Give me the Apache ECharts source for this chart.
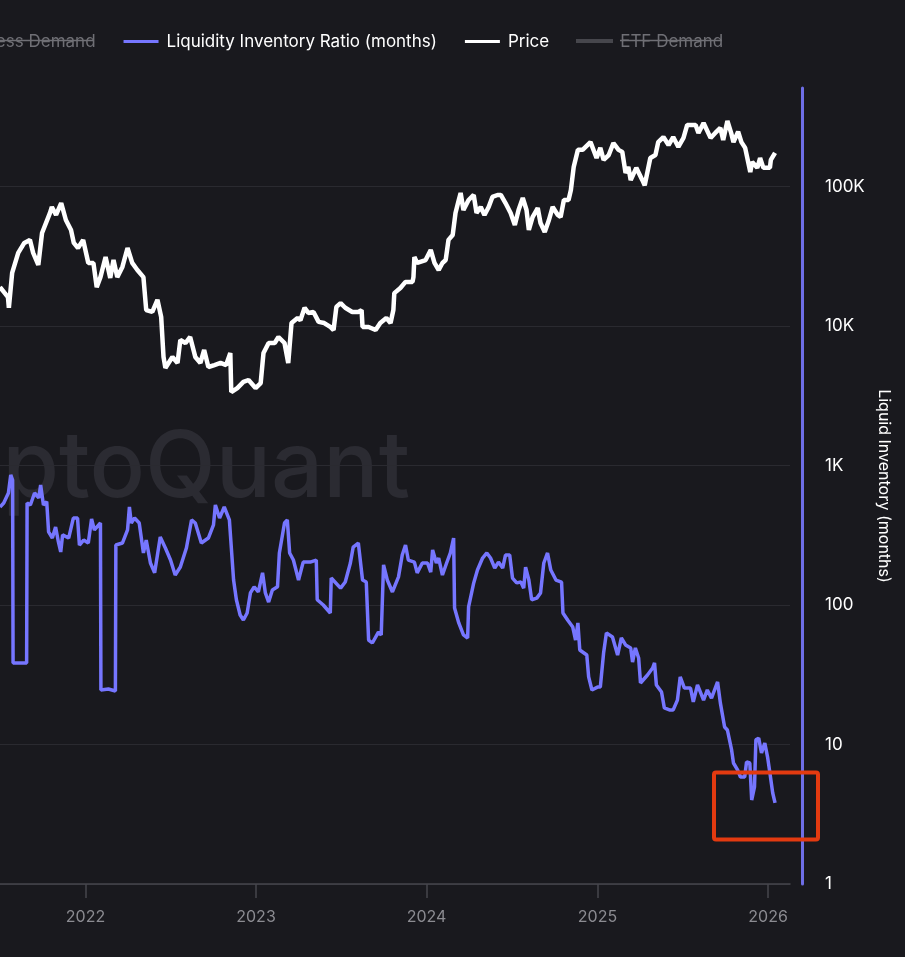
<!DOCTYPE html>
<html><head><meta charset="utf-8">
<style>html,body{margin:0;padding:0;background:#19191e;overflow:hidden}#c{width:905px;height:957px}</style>
<script src="https://cdn.jsdelivr.net/npm/echarts@6/dist/echarts.min.js"></script>
</head><body><div id="c"></div>
<script>
const priceDates=["2021-07-02","2021-07-11","2021-07-19","2021-07-21","2021-07-28","2021-08-10","2021-08-23","2021-09-04","2021-09-11","2021-09-22","2021-09-30","2021-10-17","2021-10-21","2021-10-30","2021-11-10","2021-11-20","2021-12-01","2021-12-07","2021-12-16","2021-12-27",
"2022-01-07","2022-01-18","2022-01-25","2022-02-02","2022-02-13","2022-02-23","2022-03-02","2022-03-10","2022-03-21","2022-04-01","2022-04-11","2022-04-22","2022-05-05","2022-05-11","2022-05-24","2022-06-04","2022-06-12","2022-06-17","2022-06-21","2022-07-06","2022-07-17","2022-07-23","2022-08-03","2022-08-13","2022-08-24","2022-09-04","2022-09-12","2022-09-21","2022-10-04","2022-10-17","2022-10-29","2022-11-07","2022-11-09","2022-11-22","2022-12-05","2022-12-16","2022-12-31",
"2023-01-11","2023-01-17","2023-01-28","2023-02-10","2023-02-18","2023-03-03","2023-03-11","2023-03-18","2023-03-31","2023-04-06","2023-04-15","2023-04-23","2023-05-04","2023-05-15","2023-05-27","2023-06-09","2023-06-16","2023-06-22","2023-07-01","2023-07-11","2023-07-26","2023-08-08","2023-08-15","2023-08-17","2023-08-30","2023-09-14","2023-09-24","2023-10-07","2023-10-16","2023-10-22","2023-10-24","2023-11-06","2023-11-17","2023-12-02","2023-12-04","2023-12-06","2023-12-12","2023-12-30",
"2024-01-10","2024-01-18","2024-01-27","2024-02-04","2024-02-11","2024-02-17","2024-02-26","2024-02-28","2024-03-03","2024-03-10","2024-03-14","2024-03-20","2024-03-31","2024-04-11","2024-04-17","2024-04-26","2024-05-04","2024-05-13","2024-05-21","2024-06-01","2024-06-08","2024-06-18","2024-06-29","2024-07-08","2024-07-16","2024-07-25","2024-08-02","2024-08-07","2024-08-15","2024-08-26","2024-09-01","2024-09-10","2024-09-19","2024-09-27","2024-10-08","2024-10-14","2024-10-21","2024-10-31","2024-11-05","2024-11-11","2024-11-20","2024-11-30","2024-12-17","2024-12-30",
"2025-01-07","2025-01-14","2025-01-25","2025-02-04","2025-02-15","2025-02-23","2025-03-02","2025-03-08","2025-03-13","2025-03-25","2025-04-07","2025-04-12","2025-04-24","2025-05-05","2025-05-11","2025-05-22","2025-06-02","2025-06-12","2025-06-23","2025-07-04","2025-07-12","2025-07-30","2025-08-05","2025-08-16","2025-08-31","2025-09-10","2025-09-21","2025-09-27","2025-10-06","2025-10-14","2025-10-19","2025-10-29","2025-11-05","2025-11-13","2025-11-24","2025-11-28","2025-12-09","2025-12-15","2025-12-22","2026-01-05","2026-01-07","2026-01-16"];
const priceValues=[19000,17400,16100,13500,24000,33400,39400,41400,33400,27400,46400,64600,71300,62500,76100,57500,48800,39400,36200,41400,
28300,28300,19000,22400,31200,22100,29700,22400,26500,36200,28300,25200,22400,13000,12600,15400,11600,6000,5000,6000,5430,7940,7550,8340,6000,5430,6730,5080,5250,5430,5250,6400,3360,3590,3970,4100,3590,
3900,6400,7550,7550,8340,7550,5430,10500,11400,11000,13500,12400,12600,10700,10500,9840,9360,13700,14600,13500,12600,12600,13000,9840,9840,9360,10500,11400,10500,13000,17200,18700,20700,20700,22400,31200,28300,29700,
35100,28300,25200,28300,29700,41400,44900,46400,64600,80000,89800,67800,80000,86900,64600,71300,62500,71300,84100,86900,86900,76100,64600,53000,67800,82700,67800,48800,60400,70100,54700,47200,57500,71300,62500,60400,80000,80000,94400,138000,183000,183000,208000,160000,
189000,155000,168000,205000,183000,177000,125000,138000,111000,136000,111000,102000,160000,168000,208000,226000,198000,226000,192000,223000,276000,276000,242000,285000,223000,242000,263000,215000,295000,242000,208000,247000,208000,189000,127000,150000,136000,160000,136000,136000,155000,174000];

const ratioDates=["2021-07-02","2021-07-10","2021-07-14","2021-07-20","2021-07-25","2021-07-29","2021-07-30","2021-08-11","2021-08-28","2021-08-29","2021-09-05","2021-09-14","2021-09-23","2021-09-27","2021-10-03","2021-10-10","2021-10-14","2021-10-22","2021-10-29","2021-11-04","2021-11-09","2021-11-13","2021-11-26","2021-12-06","2021-12-15","2021-12-19","2021-12-28",
"2022-01-07","2022-01-14","2022-01-20","2022-02-02","2022-02-03","2022-02-19","2022-03-06","2022-03-07","2022-03-21","2022-04-01","2022-04-05","2022-04-09","2022-04-16","2022-04-26","2022-05-05","2022-05-11","2022-05-20","2022-05-29","2022-06-04","2022-06-10","2022-06-21","2022-07-02","2022-07-12","2022-07-23","2022-08-05","2022-08-16","2022-08-24","2022-09-06","2022-09-21","2022-10-02","2022-10-06","2022-10-15","2022-10-25","2022-11-05","2022-11-14","2022-11-20","2022-11-28","2022-12-05","2022-12-13","2022-12-20","2022-12-28",
"2023-01-06","2023-01-15","2023-01-21","2023-01-28","2023-02-05","2023-02-16","2023-02-20","2023-03-03","2023-03-09","2023-03-14","2023-03-22","2023-04-02","2023-04-06","2023-04-12","2023-04-27","2023-05-10","2023-05-12","2023-05-25","2023-06-09","2023-06-11","2023-07-01","2023-07-11","2023-07-22","2023-07-28","2023-08-08","2023-08-17","2023-08-25","2023-08-30","2023-09-07","2023-09-20","2023-09-26","2023-10-01","2023-10-09","2023-10-20","2023-11-02","2023-11-10","2023-11-17","2023-11-23","2023-12-06","2023-12-12","2023-12-23",
"2024-01-03","2024-01-10","2024-01-14","2024-01-22","2024-01-27","2024-02-04","2024-02-13","2024-02-21","2024-02-28","2024-03-01","2024-03-10","2024-03-20","2024-03-29","2024-03-31","2024-04-11","2024-04-19","2024-04-30","2024-05-09","2024-05-17","2024-05-26","2024-06-03","2024-06-12","2024-06-18","2024-06-27","2024-07-03","2024-07-12","2024-07-21","2024-07-27","2024-07-31","2024-08-07","2024-08-13","2024-08-24","2024-09-01","2024-09-08","2024-09-16","2024-09-23","2024-10-04","2024-10-16","2024-10-19","2024-10-29","2024-11-09","2024-11-15","2024-11-20","2024-11-24","2024-12-09","2024-12-13","2024-12-20",
"2025-01-01","2025-01-07","2025-01-14","2025-01-20","2025-02-02","2025-02-13","2025-02-21","2025-03-02","2025-03-13","2025-03-17","2025-03-23","2025-03-30","2025-04-03","2025-04-18","2025-04-29","2025-05-03","2025-05-07","2025-05-18","2025-05-24","2025-06-04","2025-06-12","2025-06-21","2025-06-27","2025-07-06","2025-07-19","2025-07-25","2025-08-03","2025-08-09","2025-08-16","2025-08-24","2025-09-02","2025-09-15","2025-09-21","2025-09-30","2025-10-06","2025-10-15","2025-10-19","2025-10-28","2025-11-03","2025-11-12","2025-11-16","2025-11-23","2025-11-27","2025-12-03","2025-12-06","2025-12-12","2025-12-18","2025-12-25","2025-12-31","2026-01-05","2026-01-11","2026-01-16"];
const ratioValues=[504,538,538,635,855,787,38.4,38.4,38.4,538,521,635,585,725,521,550,334,302,362,283,240,318,302,420,420,269,292,
278,413,345,387,24.6,25,24.2,269,278,345,504,387,420,387,236,292,200,170,228,307,256,210,164,187,256,407,387,278,302,375,521,420,504,407,151,109,84.8,78.1,87.6,122,135,
124,170,122,105,128,135,236,387,407,236,210,151,151,203,203,210,109,100,87.6,156,132,146,200,260,278,151,146,56.1,53.4,64,61,194,151,124,159,228,269,210,203,170,200,
200,172,248,200,217,164,200,236,302,95,74.3,61,58,96.8,144,178,217,236,217,184,203,184,228,228,156,144,146,132,187,151,109,112,122,200,236,178,151,146,87.6,78.1,69.5,56.1,74.3,47.6,43.8,30.5,24.6,
25.8,25.8,45.3,63.1,59,43.8,58,51.7,49.2,39,49.2,41.7,27.6,31.5,35.3,38.4,26.7,23.8,18.3,17.7,17.7,20.8,30.5,25.4,25.4,20.2,26.7,23.8,20.8,24.6,21.5,28.1,19.8,13.35,12.7,9.14,7.37,6.56,5.85,5.85,7.5,7.37,4.0,4.96,10.8,11.1,8.69,10.25,8.13,6.25,4.49,3.81];

const seriesNames=["Excess Demand","Liquidity Inventory Ratio (months)","Price","ETF Demand"];
const yAxisTitle="Liquid Inventory (months)";
const watermark="CryptoQuant";
const FONT="Inter, 'Noto Sans', sans-serif";
const zip=(d,v)=>d.map((x,i)=>[x,v[i]]);
const BG="#19191e", DIM="#6f6f75";

const chart=echarts.init(document.getElementById('c'),null,{renderer:'canvas'});
chart.setOption({
  animation:false,backgroundColor:BG,
  textStyle:{fontFamily:FONT},
  legend:{
    left:-81,top:28,itemWidth:35,itemHeight:3,itemGap:28,icon:'rect',
    inactiveColor:DIM,
    selected:{[seriesNames[0]]:false,[seriesNames[3]]:false},
    data:seriesNames,
    textStyle:{color:'#ffffff',fontSize:17,fontFamily:FONT,padding:[0,0,0,3]}
  },
  grid:{left:0,right:115,top:88,bottom:73},
  xAxis:{
    type:'time',min:'2021-07-02',max:'2026-02-17',
    minInterval:365*24*3600*1000,
    axisLine:{lineStyle:{color:'#46464c',width:1.5}},
    axisTick:{length:14,lineStyle:{color:'#46464c',width:1.5},alignWithLabel:true},
    axisLabel:{color:'#8b8b91',fontSize:16,margin:25,fontFamily:FONT,showMinLabel:false,showMaxLabel:false,
      formatter:v=>String(new Date(v).getFullYear())},
    splitLine:{show:false}
  },
  yAxis:{
    type:'log',logBase:10,min:1,max:508000,position:'right',offset:12,
    name:yAxisTitle,nameLocation:'middle',nameGap:71,nameRotate:-90,
    nameTextStyle:{color:'#ffffff',fontSize:16,fontFamily:FONT},
    axisLine:{show:true,lineStyle:{color:'#6e6ee6',width:3}},
    axisTick:{show:false},
    axisLabel:{color:'#ffffff',fontSize:17,margin:23,fontFamily:FONT,showMaxLabel:false,
      formatter:v=>v>=1000?(v/1000)+'K':String(v)},
    splitLine:{show:true,showMaxLine:false,lineStyle:{color:'#2a2a30',width:1}}
  },
  series:[
    {name:seriesNames[0],type:'line',data:[],itemStyle:{color:'#8a8a90'}},
    {name:seriesNames[1],type:'line',data:zip(ratioDates,ratioValues),showSymbol:false,lineStyle:{color:'#7676ff',width:3.5,join:'bevel'},itemStyle:{color:'#7676ff'},z:3},
    {name:seriesNames[2],type:'line',data:zip(priceDates,priceValues),showSymbol:false,lineStyle:{color:'#ffffff',width:4.5,join:'bevel'},itemStyle:{color:'#ffffff'},z:3},
    {name:seriesNames[3],type:'line',data:[],itemStyle:{color:'#46464c'}}
  ],
  graphic:[
    {type:'text',z:0,silent:true,style:{text:watermark,x:410,y:515,textAlign:'right',textVerticalAlign:'bottom',font:"500 92px Inter, sans-serif",fill:'#2b2b32'}},
    {type:'rect',z:50,silent:true,shape:{x:576,y:39,width:37,height:4},style:{fill:'#46464c'}},
    {type:'line',z:50,silent:true,shape:{x1:0,y1:40.5,x2:94,y2:40.5},style:{stroke:DIM,lineWidth:1.5}},
    {type:'line',z:50,silent:true,shape:{x1:620,y1:40.5,x2:722,y2:40.5},style:{stroke:DIM,lineWidth:1.5}},
    {type:'rect',z:50,silent:true,shape:{x:714,y:772.5,width:104,height:67,r:2},style:{fill:'none',stroke:'#e33a10',lineWidth:4}}
  ]
});
</script></body></html>
